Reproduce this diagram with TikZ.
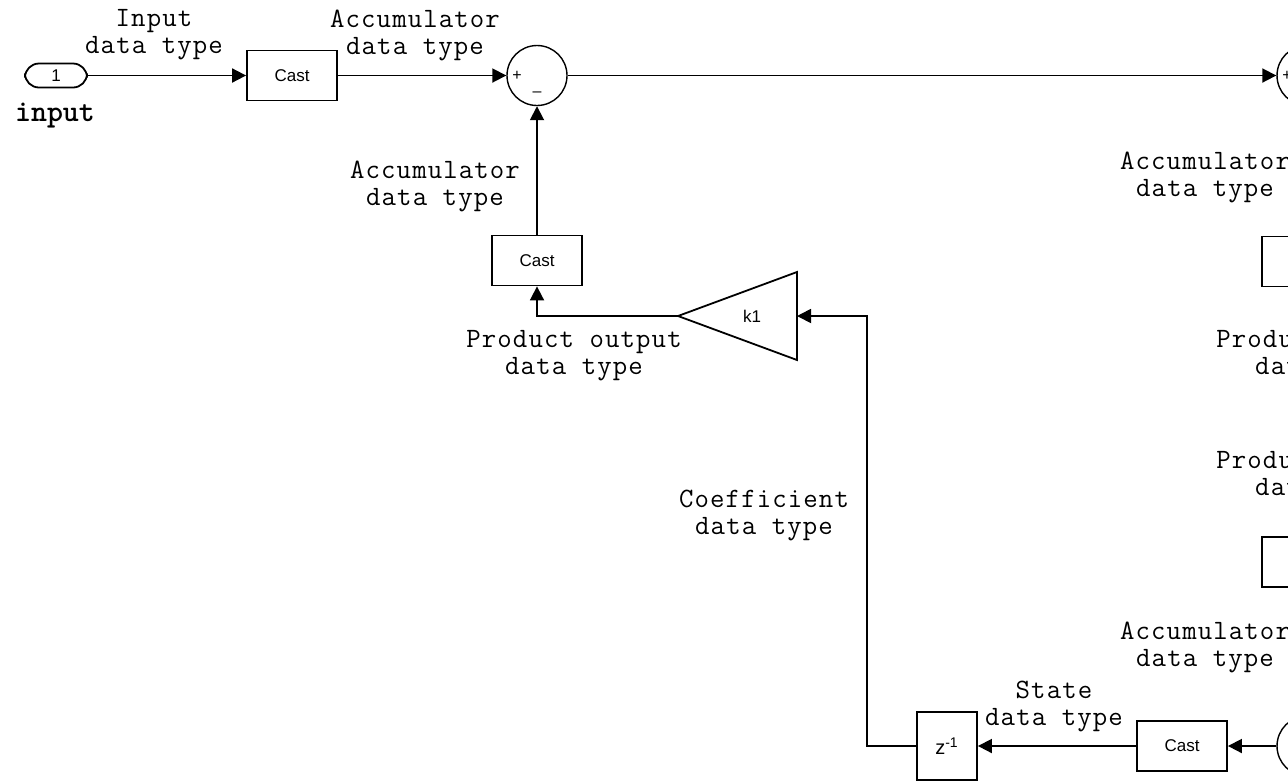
\documentclass[tikz,border=0pt]{standalone}
\usepackage{fontspec}
\setmainfont{Liberation Sans}
\newfontfamily\lblfont[LetterSpace=4]{Latin Modern Mono}
\usetikzlibrary{arrows.meta}

\begin{document}
\begin{tikzpicture}[
                > = {Triangle[length=7pt,width=7pt]}, % arrow head style
                x = 0.5pt, y = -0.5pt, % one unit per pixel
                line width = 0.9pt % line style
            ]

            \tikzstyle{block}=[draw = black, rectangle, inner sep = 0pt,
            minimum width = 45pt, minimum height = 25pt,
            font = \fontsize{8.5}{9}\selectfont]
            \tikzstyle{sum}=[draw = black, circle, inner sep = 0pt,
            minimum size = 30pt, line width = 0.7pt]
            \tikzstyle{sign}=[inner sep = 0pt, font = \fontsize{8}{8}\selectfont]
            \tikzstyle{lbl}=[align = center, inner sep = 0pt,
            font = \lblfont\fontsize{14}{13.5}\selectfont]

            \useasboundingbox (0,0) rectangle (1288,783);
            \clip (0,0) rectangle (1288,783);

            \node (in) [draw, rounded corners = 7pt, minimum width = 31pt,
            minimum height = 12pt, inner sep = 0pt,
            font = \fontsize{8.5}{9}\selectfont] at (56,75.5) {1};
            \node (inname) [inner sep = 0pt,
            font = \ttfamily\bfseries\fontsize{15.2}{15}\selectfont] at (55,116) {input};
            \node (cast1) [block] at (292,75.5) {Cast};
            \node (sum1) [sum] at (537,75.5) {}; \node (p1) [sign] at (517,75.5) {+};
            \node (m1) [sign] at (537,94) {--};
            \node (sum2) [sum] at (1307,75.5) {}; \node (p2) [sign] at (1287,75.5) {+};
            \node (cast2) [block] at (537,260.5) {Cast};
            \node (k1) [font = \fontsize{8.5}{9}\selectfont] at (752,316) {k1};
            \coordinate (k1out) at (678,316); \coordinate (k1in) at (797,316);
            \coordinate (bend) at (867,316);
            \node (z1) [block, minimum width = 30pt, minimum height = 34pt,
            font = \fontsize{10}{10}\selectfont]
            at (947,746) {z\textsuperscript{-1}};
            \node (cast3) [block] at (1182,746) {Cast};
            \node (sum3) [sum] at (1307,746) {};
            \node (cast4) [block] at (1307,261.5) {};
            \node (cast5) [block] at (1307,562) {};

            \node (l1) [lbl] at (154,35) {Input\\data type};
            \node (l2) [lbl] at (415,35) {Accumulator\\data type};
            \node (l3) [lbl] at (435,186) {Accumulator\\data type};
            \node (l4) [lbl] at (574,356) {Product output\\data type};
            \node (l5) [lbl] at (764,515) {Coefficient\\data type};
            \node (l6) [lbl] at (1054,706) {State\\data type};
            \node (l7) [lbl] at (1205,177) {Accumulator\\data type};
            \node (l8) [lbl] at (1324,356) {Product output\\data type};
            \node (l9) [lbl] at (1324,477) {Product output\\data type};
            \node (l10) [lbl] at (1205,647) {Accumulator\\data type};

            \draw (797,272) -- (k1out) -- (797,360) -- cycle;

            \draw[->] (in) -- (cast1); \draw[->] (cast1) -- (sum1);
            \draw[->] (sum1) -- (sum2); \draw[->] (cast2) -- (sum1);
            \draw[->] (k1out) -| (cast2); \draw[->] (z1) -| (bend) -- (k1in);
            \draw[->] (cast3) -- (z1); \draw[->] (sum3) -- (cast3);

        \end{tikzpicture}
\end{document}
